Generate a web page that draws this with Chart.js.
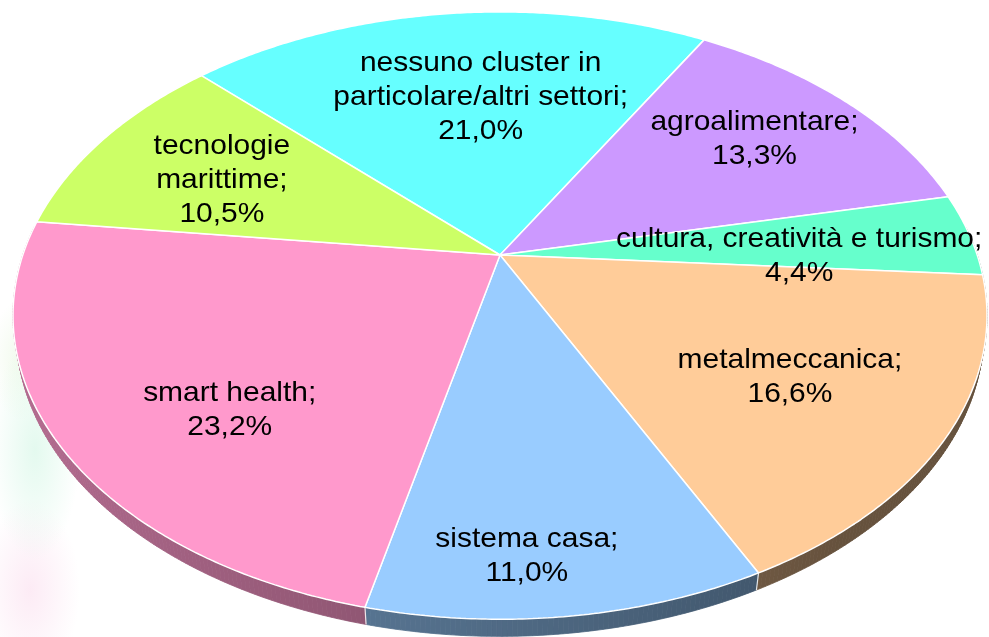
<!DOCTYPE html>
<html><head><meta charset="utf-8">
<script src="https://cdn.jsdelivr.net/npm/chart.js@4.4.1/dist/chart.umd.min.js"></script>
<style>
html,body{margin:0;padding:0;background:#fff;overflow:hidden}
#wrap{width:989px;height:637px;position:relative;
  background:
    radial-gradient(ellipse 45px 110px at 35px 450px, rgba(205,245,225,0.55), rgba(205,245,225,0) 100%),
    radial-gradient(ellipse 50px 90px at 30px 590px, rgba(250,215,235,0.5), rgba(250,215,235,0) 100%),
    radial-gradient(ellipse 30px 60px at 20px 360px, rgba(225,245,215,0.45), rgba(225,245,215,0) 100%),
    #fff;}
</style>
</head><body><div id="wrap"><canvas id="c" width="989" height="637"></canvas></div>
<script>
// ---- data ----
const categories = ['nessuno cluster in particolare/altri settori', 'agroalimentare', 'cultura, creatività e turismo', 'metalmeccanica', 'sistema casa', 'smart health', 'tecnologie marittime'];
const shares = [21.0, 13.3, 4.4, 16.6, 11.0, 23.2, 10.5];
const sliceColors = ['#66ffff', '#cc99ff', '#66ffcc', '#ffcc99', '#99ccff', '#ff99cc', '#ccff66'];

// ---- label layout (not data) ----
const labelRadius = [0.62, 0.72, 0.63, 0.68, 0.858, 0.70, 0.70];
const labelNudge = [[16, 0], [-2, -4], [2, 12], [-2, 1], [-30, 0], [27, 26], [6, 6]];
const labelWrap = [305, 9999, 9999, 9999, 9999, 9999, 150];

// ---- 3D view of the pie plane ----
const VIEW = {x0: 500, y0: 255, scale: 477.2, sinA: 0.611, cosA: 0.792, dist: 3.97, thick: 0.043};
function project(u, v, h) {
  const up = -v * VIEW.sinA + h * VIEW.cosA;
  const depth = v * VIEW.cosA + h * VIEW.sinA;
  const f = VIEW.dist / (VIEW.dist - depth);
  return {x: VIEW.x0 + VIEW.scale * u * f, y: VIEW.y0 - VIEW.scale * up * f};
}
const P = CanvasRenderingContext2D.prototype;
let geo = null;
function toPie(px, py) { return [(px - geo.cx) / geo.R, (py - geo.cy) / geo.R]; }
function hexRgb(h) { return [parseInt(h.substr(1, 2), 16), parseInt(h.substr(3, 2), 16), parseInt(h.substr(5, 2), 16)]; }
function shade(hex, f) { const c = hexRgb(hex); return 'rgb(' + c.map(x => Math.round(x * f)).join(',') + ')'; }
function wallFactor(th) { return Math.max(0.40, 0.52 - 0.2 * Math.cos(th)); }

function drawWalls(ctx, meta) {
  const t = VIEW.thick;
  const step = Math.PI / 360;
  ctx.save();
  meta.data.forEach((el, i) => {
    const a0 = el.startAngle, a1 = el.endAngle;
    const n = Math.max(1, Math.ceil((a1 - a0) / step));
    for (let k = 0; k < n; k++) {
      const t0 = a0 + (a1 - a0) * k / n, t1 = a0 + (a1 - a0) * (k + 1) / n;
      const tm = (t0 + t1) / 2;
      if (Math.sin(tm) < -0.1) continue;
      const p1 = project(Math.cos(t0), Math.sin(t0), 0), p2 = project(Math.cos(t1), Math.sin(t1), 0);
      const p3 = project(Math.cos(t1), Math.sin(t1), -t), p4 = project(Math.cos(t0), Math.sin(t0), -t);
      const col = shade(sliceColors[i], wallFactor(tm));
      ctx.fillStyle = col; ctx.strokeStyle = col; ctx.lineWidth = 0.8;
      P.beginPath.call(ctx);
      P.moveTo.call(ctx, p1.x, p1.y); P.lineTo.call(ctx, p2.x, p2.y);
      P.lineTo.call(ctx, p3.x, p3.y); P.lineTo.call(ctx, p4.x, p4.y);
      P.closePath.call(ctx);
      ctx.fill(); ctx.stroke();
    }
  });
  // light seams at slice boundaries on the side wall
  ctx.strokeStyle = 'rgba(255,255,255,0.85)'; ctx.lineWidth = 1.2;
  meta.data.forEach(el => {
    const a = el.startAngle;
    if (Math.sin(a) > 0.32) {
      const q1 = project(Math.cos(a), Math.sin(a), 0), q2 = project(Math.cos(a), Math.sin(a), -t);
      P.beginPath.call(ctx); P.moveTo.call(ctx, q1.x, q1.y); P.lineTo.call(ctx, q2.x, q2.y); ctx.stroke();
    }
  });
  ctx.restore();
}

function fmt(v) { return v.toFixed(1).replace('.', ',') + '%'; }
const XSTRETCH = 1.07;
function wrapText(ctx, text, maxW) {
  const words = text.split(' ');
  const lines = [];
  let cur = '';
  words.forEach(w => {
    const test = cur ? cur + ' ' + w : w;
    if (cur && ctx.measureText(test).width * XSTRETCH > maxW) { lines.push(cur); cur = w; }
    else cur = test;
  });
  if (cur) lines.push(cur);
  return lines;
}

const perspectivePlugin = {
  id: 'perspective',
  beforeDatasetsDraw(chart) {
    const meta = chart.getDatasetMeta(0);
    const el0 = meta.data[0];
    geo = {cx: el0.x, cy: el0.y, R: el0.outerRadius};
    const ctx = chart.ctx;
    drawWalls(ctx, meta);
    ctx.moveTo = function (x, y) { const [u, v] = toPie(x, y); const p = project(u, v, 0); P.moveTo.call(this, p.x, p.y); };
    ctx.lineTo = function (x, y) { const [u, v] = toPie(x, y); const p = project(u, v, 0); P.lineTo.call(this, p.x, p.y); };
    ctx.arc = function (x, y, r, a0, a1, ccw) {
      if (!isFinite(a0) || !isFinite(a1) || !(r > 0)) { this.lineTo(x, y); return; }
      let sweep = a1 - a0;
      if (Math.abs(sweep) > 2 * Math.PI) sweep = Math.sign(sweep) * 2 * Math.PI;
      const n = Math.max(2, Math.ceil(Math.abs(sweep) / (Math.PI / 360)));
      for (let i = 0; i <= n; i++) {
        const a = a0 + sweep * i / n;
        this.lineTo(x + r * Math.cos(a), y + r * Math.sin(a));
      }
    };
  },
  afterDatasetsDraw(chart) {
    const ctx = chart.ctx;
    delete ctx.moveTo; delete ctx.lineTo; delete ctx.arc;
    const meta = chart.getDatasetMeta(0);
    ctx.save();
    ctx.font = '28px "Liberation Sans", Arial, sans-serif';
    ctx.fillStyle = '#000';
    ctx.textAlign = 'center';
    ctx.textBaseline = 'alphabetic';
    meta.data.forEach((el, i) => {
      const mid = (el.startAngle + el.endAngle) / 2;
      const r = labelRadius[i];
      const p = project(r * Math.cos(mid), r * Math.sin(mid), 0);
      const x = p.x + labelNudge[i][0], y = p.y + labelNudge[i][1];
      const lines = wrapText(ctx, categories[i] + ';', labelWrap[i]).concat([fmt(shares[i])]);
      const lh = 34;
      lines.forEach((ln, j) => {
        const by = y + 10 + (j - (lines.length - 1) / 2) * lh;
        ctx.save();
        ctx.translate(x, by);
        ctx.scale(XSTRETCH, 1);
        ctx.fillText(ln, 0, 0);
        ctx.restore();
      });
    });
    ctx.restore();
  }
};

new Chart(document.getElementById('c'), {
  type: 'pie',
  data: {
    labels: categories,
    datasets: [{
      data: shares,
      backgroundColor: sliceColors,
      borderColor: '#ffffff',
      borderWidth: 1.5,
      hoverOffset: 0,
      clip: false
    }]
  },
  options: {
    responsive: false,
    animation: false,
    events: [],
    rotation: -45.5,
    layout: {padding: 0},
    plugins: {legend: {display: false}, tooltip: {enabled: false}}
  },
  plugins: [perspectivePlugin]
});
</script>
</body></html>
